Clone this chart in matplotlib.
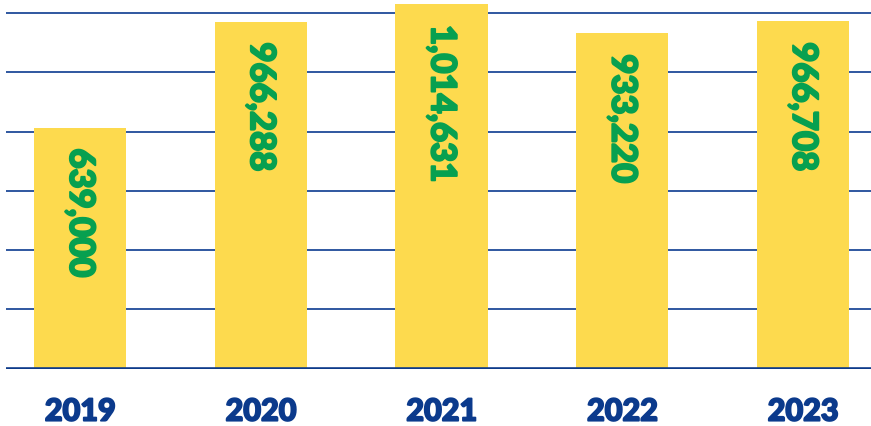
import matplotlib
matplotlib.use("Agg")
import matplotlib.pyplot as plt
import matplotlib.patheffects as pe
import numpy as np

years = ["2019", "2020", "2021", "2022", "2023"]
values = [671000, 966288, 1014631, 933220, 966708]
labels = ["639,000", "966,288", "1,014,631", "933,220", "966,708"]
grid_step = 165000
grid_count = 6

plt.rcParams['font.family'] = ['Lato', 'DejaVu Sans']

fig = plt.figure(figsize=(8.71, 4.27), dpi=100)
W, H = 871, 427
base_px = 369.5
ax = fig.add_axes([6 / W, (H - base_px) / H, (W - 6) / W, base_px / H])

x = np.arange(len(years))
ax.bar(x, values, width=0.51, color='#FDDA4E', zorder=2)

ymax = base_px / 355.5 * grid_step * grid_count
ax.set_ylim(0, ymax)
ax.set_xlim(-0.41, 4.376)

for i in range(1, grid_count + 1):
    ax.axhline(i * grid_step, color='#1F4A98', lw=1.3, zorder=1)
ax.axhline(0, color='#0D3A8A', lw=2.6, zorder=3)

green = '#07A050'
for xi, v, lab in zip(x, values, labels):
    ax.annotate(lab, xy=(xi, v), xytext=(0, -15), textcoords='offset points',
                rotation=270, ha='center', va='top', color=green,
                fontsize=25, fontweight='black', zorder=4,
                path_effects=[pe.withStroke(linewidth=1.4, foreground=green)])

for s in ax.spines.values():
    s.set_visible(False)
ax.set_yticks([])
ax.set_xticks(x)
blue = '#0B3A8C'
ax.set_xticklabels(years, fontsize=22, fontweight='black', color=blue)
for t in ax.get_xticklabels():
    t.set_path_effects([pe.withStroke(linewidth=1.3, foreground=blue)])
ax.tick_params(axis='x', length=0, pad=21)

fig.savefig("out.png", dpi=100)
